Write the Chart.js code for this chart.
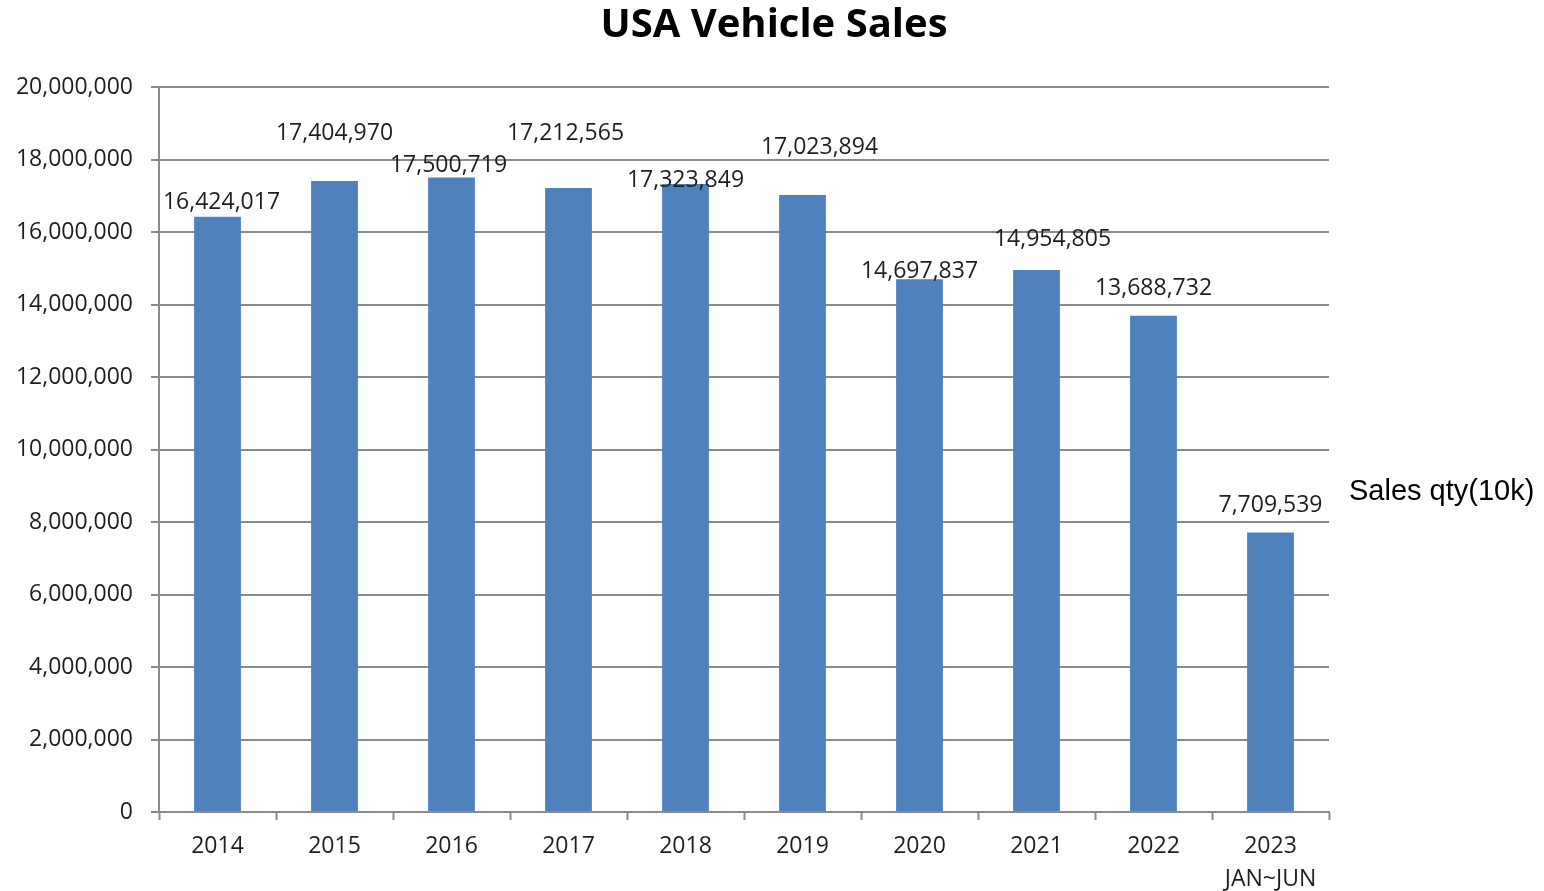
<!DOCTYPE html>
<html>
<head>
<meta charset="utf-8">
<script src="https://cdn.jsdelivr.net/npm/chart.js@4"></script>
<style>
    html, body { margin: 0; padding: 0; background: #fff; }
    #wrap { width: 1544px; height: 891px; }
</style>
</head>
<body>
<div id="wrap"><canvas id="chart" width="1544" height="891"></canvas></div>
<script>
// dados
const years = ['2014', '2015', '2016', '2017', '2018', '2019', '2020', '2021', '2022', ['2023', 'JAN~JUN']];
const sales = [16424017, 17404970, 17500719, 17212565, 17323849, 17023894, 14697837, 14954805, 13688732, 7709539];
const yTicks = [0, 2000000, 4000000, 6000000, 8000000, 10000000, 12000000, 14000000, 16000000, 18000000, 20000000];
const chartTitle = 'USA Vehicle Sales';

const GRID = '#8a8a8a';
const TEXT = '#1e1e1e';
const BAR = '#4F81BD';

// rótulos acima das barras (deslocamentos como no original)
const valueLabels = {
    id: 'valueLabels',
    afterDatasetsDraw(chart, args, opts) {
        const { ctx } = chart;
        const meta = chart.getDatasetMeta(0);
        ctx.save();
        ctx.font = '23px "Open Sans"';
        ctx.fillStyle = TEXT;
        ctx.textAlign = 'center';
        ctx.textBaseline = 'middle';
        meta.data.forEach((bar, i) => {
            const v = chart.data.datasets[0].data[i];
            ctx.fillText(v.toLocaleString('en-US'), bar.x + opts.dx[i], bar.y - opts.lift[i]);
        });
        ctx.restore();
    }
};

// título centrado no canvas e legenda à direita, só texto
const extras = {
    id: 'extras',
    afterDraw(chart) {
        const { ctx, chartArea, width } = chart;
        ctx.save();
        ctx.fillStyle = '#000';
        ctx.textBaseline = 'middle';
        ctx.textAlign = 'center';
        ctx.font = 'bold 40px "Open Sans"';
        ctx.fillText(chartTitle, width / 2 + 2, 26);
        ctx.textAlign = 'left';
        ctx.font = '29px "Liberation Sans"';
        ctx.fillText(chart.data.datasets[0].label, chartArea.right + 20, 492);
        ctx.restore();
    }
};

new Chart(document.getElementById('chart').getContext('2d'), {
    type: 'bar',
    data: {
        labels: years,
        datasets: [{
            label: 'Sales qty(10k)',
            data: sales,
            backgroundColor: BAR,
            barPercentage: 0.4,
            categoryPercentage: 1.0
        }]
    },
    options: {
        responsive: false,
        animation: false,
        layout: { padding: { left: 0, right: 215, top: 87, bottom: 0 } },
        plugins: {
            legend: { display: false },
            tooltip: { enabled: false },
            title: { display: false },
            valueLabels: {
                lift: [14, 48, 12, 55, 4, 47, 8, 30, 27, 27],
                dx: [4, 0, -3, -3, 0, 17, 0, 16, 0, 0]
            }
        },
        scales: {
            x: {
                afterFit: scale => { scale.height = 79; },
                grid: {
                    display: true,
                    offset: true,
                    drawOnChartArea: false,
                    drawTicks: true,
                    tickLength: 8,
                    tickWidth: 2,
                    color: GRID
                },
                border: { display: true, color: GRID, width: 2 },
                ticks: {
                    color: TEXT,
                    padding: 10,
                    font: { family: '"Open Sans"', size: 23, lineHeight: 1.43 },
                    maxRotation: 0
                }
            },
            y: {
                min: 0,
                max: 20000000,
                afterBuildTicks: scale => { scale.ticks = yTicks.map(v => ({ value: v })); },
                afterFit: scale => { scale.width = 159; },
                grid: {
                    color: GRID,
                    lineWidth: 2,
                    tickLength: 8
                },
                border: { display: true, color: GRID, width: 2 },
                ticks: {
                    color: TEXT,
                    padding: 18,
                    font: { family: '"Open Sans"', size: 23 },
                    callback: v => v.toLocaleString('en-US')
                }
            }
        }
    },
    plugins: [valueLabels, extras]
});
</script>
</body>
</html>
